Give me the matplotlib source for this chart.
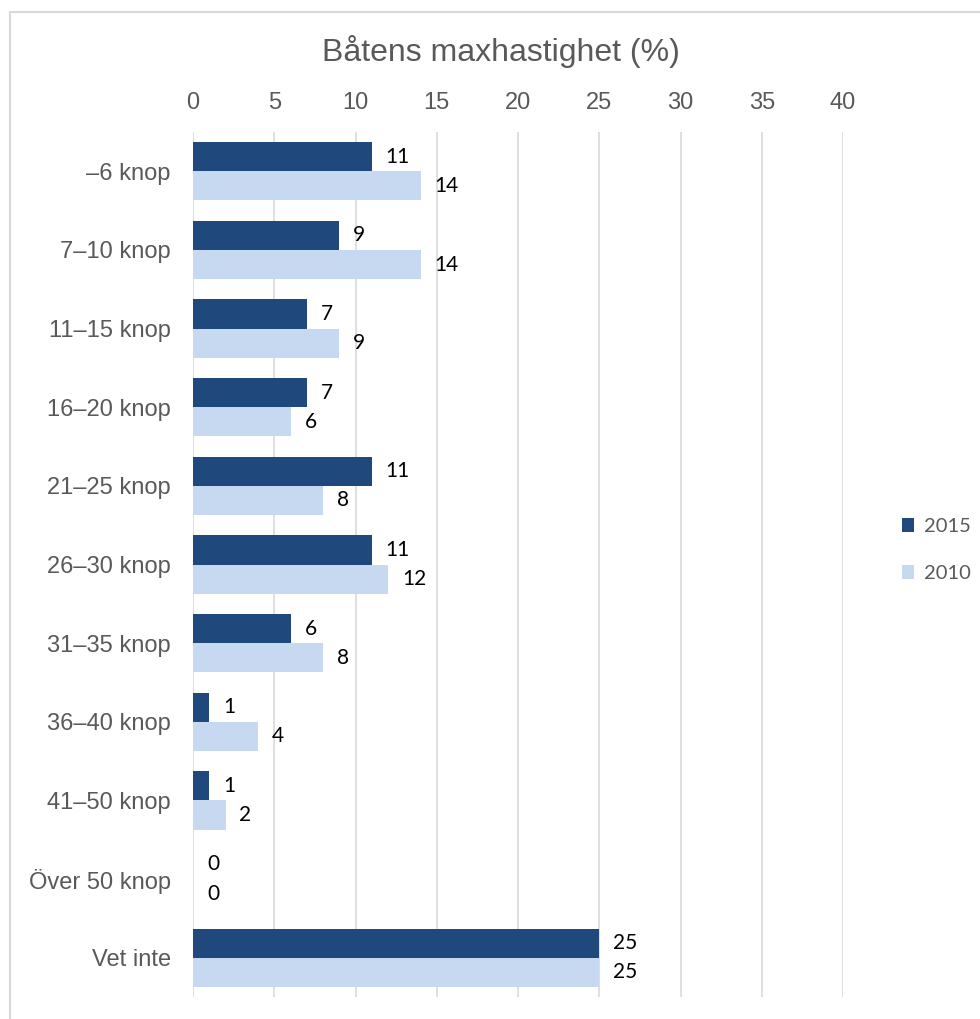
import numpy as np
import matplotlib.pyplot as plt
from matplotlib.patches import Rectangle

# data
categories = ['–6 knop', '7–10 knop', '11–15 knop', '16–20 knop', '21–25 knop',
              '26–30 knop', '31–35 knop', '36–40 knop', '41–50 knop',
              'Över 50 knop', 'Vet inte']
values_2015 = [11, 9, 7, 7, 11, 11, 6, 1, 1, 0, 25]
values_2010 = [14, 14, 9, 6, 8, 12, 8, 4, 2, 0, 25]
series_names = ['2015', '2010']
x_ticks = [0, 5, 10, 15, 20, 25, 30, 35, 40]

dark = '#1f497d'
light = '#c6d9f0'
grey_text = '#595959'
grid_col = '#d9d9d9'

fig = plt.figure(figsize=(9.8, 10.19), dpi=100)
ax = fig.add_axes([193/980, 1 - 997/1019, (843 - 193)/980, (997 - 132)/1019])

# outer chart frame (partly cut off in the original)
fig.patches.append(Rectangle((10/980, -0.05), 1.0, 1 - 12/1019 + 0.05,
                             transform=fig.transFigure, fill=False,
                             edgecolor=grid_col, linewidth=1.5))

y = np.arange(len(categories))
h = 0.37
b1 = ax.barh(y - h/2, values_2015, height=h, color=dark, label=series_names[0])
b2 = ax.barh(y + h/2, values_2010, height=h, color=light, label=series_names[1])

for bars, vals in [(b1, values_2015), (b2, values_2010)]:
    for bar, v in zip(bars, vals):
        ax.annotate(str(v), (v, bar.get_y() + bar.get_height()/2),
                    xytext=(10, 0), textcoords='offset points',
                    ha='left', va='center', fontsize=15, family='Lato',
                    color='black')

ax.set_xlim(0, 40)
ax.set_ylim(len(categories) - 0.5, -0.5)
ax.set_xticks(x_ticks)
ax.xaxis.tick_top()
ax.set_yticks(y)
ax.set_yticklabels(categories)
ax.tick_params(axis='x', length=0, pad=13, labelsize=17, labelcolor=grey_text)
ax.tick_params(axis='y', length=0, pad=16, labelsize=17, labelcolor=grey_text)
for lab in ax.get_xticklabels() + ax.get_yticklabels():
    lab.set_family('Liberation Sans')

ax.grid(axis='x', color=grid_col, linewidth=1.2)
ax.set_axisbelow(True)
for s in ax.spines.values():
    s.set_visible(False)

fig.text(501/980, 1 - 52/1019, 'Båtens maxhastighet (%)', ha='center', va='center',
         fontsize=23, color=grey_text, family='Liberation Sans')

leg = fig.legend(handles=[b1, b2], labels=series_names, loc='center left',
                 bbox_to_anchor=(884/980, 1 - 550/1019), frameon=False,
                 prop={'family': 'Lato', 'size': 14.5}, handlelength=0.6,
                 handleheight=0.65, labelspacing=1.5, handletextpad=0.5)
for t in leg.get_texts():
    t.set_color(grey_text)

fig.savefig('out.png', dpi=100)
